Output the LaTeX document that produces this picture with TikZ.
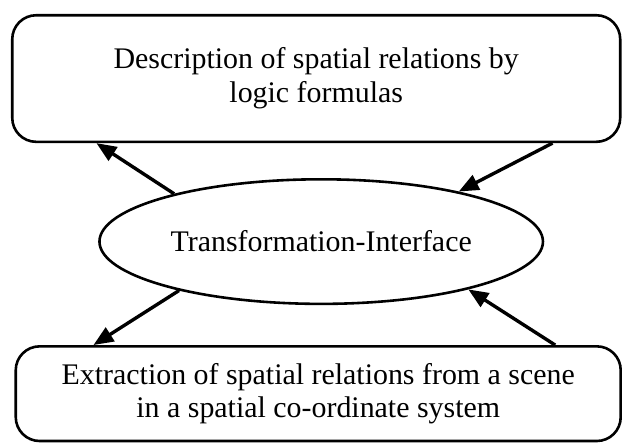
\documentclass[tikz,border=0pt]{standalone}
\usepackage{fontspec}
\setmainfont{Liberation Serif}
\usetikzlibrary{arrows.meta,positioning,shapes.geometric,calc}

\begin{document}
\begin{tikzpicture}[
    node distance=17.5pt,
    box/.style={draw, line width=1.3pt, rounded corners=12pt, align=center, font=\fontsize{15}{17}\selectfont},
    interface/.style={draw, ellipse, line width=1.3pt, minimum width=222.5pt, minimum height=62.5pt, inner sep=0pt, font=\fontsize{15}{17}\selectfont},
    arr/.style={-{Triangle[length=10pt, width=8pt]}, line width=1.7pt}
]
\node[box, minimum width=305pt, minimum height=63.5pt] (desc) {Description of spatial relations by\\logic formulas};
\node[interface, below=17.5pt of desc, xshift=2.5pt] (trans) {Transformation-Interface};
\node[box, below=20pt of trans, xshift=-1.5pt, minimum width=303.5pt, minimum height=47.5pt] (extr) {Extraction of spatial relations from a scene\\in a spatial co-ordinate system};

\useasboundingbox ([xshift=-5.5pt,yshift=7pt]desc.north west) rectangle ++(311pt,-220pt);

\draw[arr] (trans.162) -- ($(desc.south west)!0.14!(desc.south east)$);
\draw[arr] ($(desc.south west)!0.887!(desc.south east)$) -- (trans.20);
\draw[arr] (trans.199) -- ($(extr.north west)!0.13!(extr.north east)$);
\draw[arr] ($(extr.north west)!0.89!(extr.north east)$) -- (trans.-18);
\end{tikzpicture}
\end{document}
